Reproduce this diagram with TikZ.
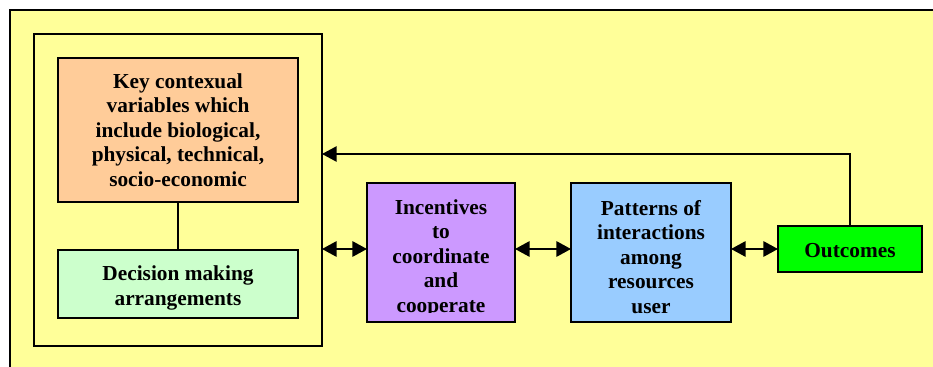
\documentclass[tikz,border=0pt]{standalone}
\usepackage{fontspec}
\setmainfont{Liberation Serif}
\usetikzlibrary{arrows.meta}
\definecolor{bgyellow}{HTML}{FFFF99}
\definecolor{peach}{HTML}{FFCC99}
\definecolor{mint}{HTML}{CCFFCC}
\definecolor{lilac}{HTML}{CC99FF}
\definecolor{skyblue}{HTML}{99CCFF}
\definecolor{brightgreen}{HTML}{00FF00}
\begin{document}
\begin{tikzpicture}[x=0.75pt,y=-0.75pt,
  box/.style={draw=black, line width=1.2pt, inner sep=0pt, outer sep=0pt,
    font=\bfseries\fontsize{16}{18.4}\selectfont, align=center},
  lbl/.style={font=\bfseries\fontsize{16}{18.4}\selectfont, align=center, inner sep=0pt},
  dbl/.style={line width=1.6pt, {Triangle[length=11pt,width=11.5pt]}-{Triangle[length=11pt,width=11.5pt]}},
  fb/.style={line width=1.2pt, -{Triangle[length=11pt,width=11.5pt]}},
  plain/.style={line width=1.2pt}
]
\useasboundingbox (0,0) rectangle (933,367);
\fill[bgyellow] (10,10) rectangle (933,367);
\draw[plain] (10,367) -- (10,10) -- (933,10);

\node[box, minimum width=216pt, minimum height=234pt] (frame) at (178,190) {};
\node[box, fill=peach, minimum width=180pt, minimum height=108pt] (key) at (178,130)
  {Key contexual\\variables which\\include biological,\\physical, technical,\\socio-economic};
\node[box, fill=mint, minimum width=180pt, minimum height=51pt] (dec) at (178,284) {};
\node[lbl] (dectext) at (178,288) {Decision making\\arrangements};
\node[box, fill=lilac, minimum width=111pt, minimum height=104.25pt] (inc) at (441,252.5) {};
\begin{scope}
  \clip (367,183) rectangle (515,313);
  \node[lbl, anchor=north] (inctext) at (441,199) {Incentives\\to\\coordinate\\and\\cooperate};
\end{scope}
\node[box, fill=skyblue, minimum width=120pt, minimum height=104.25pt] (pat) at (651,252.5) {};
\node[lbl, anchor=north] (pattext) at (651,200) {Patterns of\\interactions\\among\\resources\\user};
\node[box, fill=brightgreen, minimum width=108pt, minimum height=34.5pt] (out) at (850,249) {};
\node[lbl] (outtext) at (850,251) {Outcomes};

\draw[plain] (key.south) -- (dec.north);
\draw[dbl] (frame.east |- out.west) -- (inc.west |- out.west);
\draw[dbl] (inc.east |- out.west) -- (pat.west |- out.west);
\draw[dbl] (pat.east |- out.west) -- (out.west);
\coordinate (turn) at (850,154);
\draw[fb] (out.north) -- (turn) -- (frame.east |- turn);
\end{tikzpicture}
\end{document}
